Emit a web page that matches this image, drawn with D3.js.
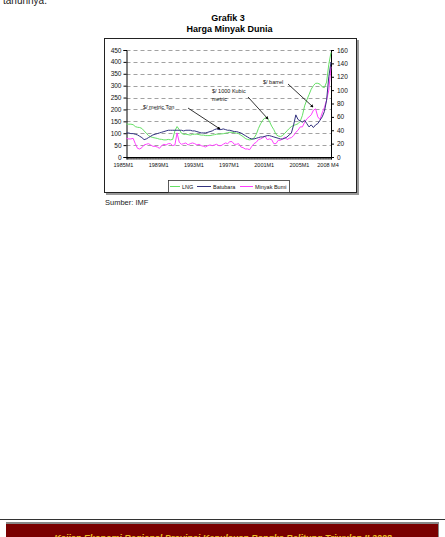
<!DOCTYPE html>
<html>
<head>
<meta charset="utf-8">
<script src="https://cdn.jsdelivr.net/npm/d3@7"></script>
<style>
  html, body { margin: 0; padding: 0; background: #fff; }
  svg { display: block; font-family: "Liberation Sans", Arial, sans-serif; }
</style>
</head>
<body>
<div id="chart"></div>
<script>
// quarterly samples, 1985M1 .. 2008M4 (month index 0, 3, 6, ... 279)
const periodStart = 1985;
const lastMonth = 279;

// LNG, $/1000 kubic metric (left axis)
const lng = [
    138, 138, 138, 136,   // 1985
    128, 125, 124, 120,   // 1986
    110, 100, 90, 85,     // 1987
    82, 80, 78, 75,       // 1988
    74, 72, 72, 74,       // 1989
    72, 74, 110, 128,     // 1990
    115, 100, 95, 96,     // 1991
    94, 92, 95, 96,       // 1992
    96, 94, 92, 92,       // 1993
    90, 90, 90, 92,       // 1994
    94, 96, 96, 97,       // 1995
    98, 100, 102, 104,    // 1996
    104, 102, 100, 98,    // 1997
    92, 86, 78, 74,       // 1998
    72, 74, 80, 95,       // 1999
    120, 140, 155, 165,   // 2000
    165, 150, 130, 115,   // 2001
    95, 88, 86, 90,       // 2002
    100, 110, 120, 128,   // 2003
    133, 136, 140, 150,   // 2004
    175, 215, 240, 262,   // 2005
    285, 300, 310, 310,   // 2006
    306, 295, 292, 315,   // 2007
    390, 440              // 2008
];

// Batubara, $/metric ton (right axis)
const batubara = [
    36, 36, 35, 35,
    34, 33, 31, 29,
    26, 27, 29, 31,
    33, 34, 35, 36,
    37, 38, 39, 40,
    40, 40, 40, 40,
    40, 40, 39, 40,
    40, 40, 39, 39,
    38, 37, 36, 36,
    36, 37, 38, 39,
    41, 42, 41, 41,
    42, 41, 40, 40,
    39, 38, 38, 37,
    36, 34, 32, 30,
    28, 27, 27, 28,
    29, 30, 30, 31,
    32, 32, 31, 30,
    29, 28, 27, 27,
    28, 30, 33, 36,
    48, 63, 56, 54,
    52, 55, 50, 45,
    48, 44, 48, 50,
    55, 60, 68, 85,
    120, 142
];

// Minyak Bumi, $/barrel (right axis)
const minyak = [
    28, 27, 27, 28,
    20, 13, 12, 14,
    18, 19, 20, 18,
    16, 16, 15, 13,
    17, 19, 18, 20,
    20, 17, 18, 36,
    22, 19, 20, 21,
    18, 20, 21, 20,
    18, 19, 17, 16,
    15, 17, 18, 17,
    18, 19, 17, 17,
    19, 21, 20, 23,
    23, 19, 19, 20,
    15, 14, 12, 12,
    11, 16, 20, 22,
    26, 27, 29, 31,
    26, 27, 26, 20,
    20, 25, 25, 27,
    30, 26, 28, 29,
    32, 37, 40, 45,
    45, 52, 57, 60,
    63, 70, 72, 60,
    56, 66, 74, 85,
    100, 135
];

const tickLabels = ["1985M1", "1989M1", "1993M1", "1997M1", "2001M1", "2005M1", "2008 M4"];
const tickMonths = [0, 48, 96, 144, 192, 240, 279];
const leftTicks = [0, 50, 100, 150, 200, 250, 300, 350, 400, 450];
const rightTicks = [0, 20, 40, 60, 80, 100, 120, 140, 160];

const seriesNames = ["LNG", "Batubara", "Minyak Bumi"];
const seriesColors = ["#66e066", "#33337f", "#ff40ff"];

const W = 445, H = 537;
const svg = d3.select("#chart").append("svg")
    .attr("width", W)
    .attr("height", H);

// text cut off at the top of the page
svg.append("text")
    .attr("x", 3).attr("y", 4)
    .attr("font-size", 10)
    .attr("fill", "#222")
    .text("tahunnya.");

// title
svg.append("text")
    .attr("x", 228).attr("y", 20.5)
    .attr("text-anchor", "middle")
    .attr("font-size", 9).attr("font-weight", "bold")
    .text("Grafik 3");
svg.append("text")
    .attr("x", 229.5).attr("y", 32)
    .attr("text-anchor", "middle")
    .attr("font-size", 9).attr("font-weight", "bold")
    .text("Harga Minyak Dunia");

// chart frame with shadow
svg.append("rect")
    .attr("x", 106).attr("y", 40)
    .attr("width", 253).attr("height", 155)
    .attr("fill", "#999");
svg.append("rect")
    .attr("x", 104.5).attr("y", 38.5)
    .attr("width", 252).attr("height", 154)
    .attr("fill", "#fff")
    .attr("stroke", "#222")
    .attr("stroke-width", 1);

const x = d3.scaleLinear().domain([0, lastMonth]).range([126.5, 331]);
const yL = d3.scaleLinear().domain([0, 450]).range([157, 50]);
const yR = d3.scaleLinear().domain([0, 160]).range([157, 50]);

const plot = svg.append("g");

// gridlines
plot.append("g")
    .selectAll("line")
    .data(leftTicks.filter(d => d > 0))
    .join("line")
    .attr("x1", x(0)).attr("x2", x(lastMonth))
    .attr("y1", d => Math.round(yL(d)) + 0.5)
    .attr("y2", d => Math.round(yL(d)) + 0.5)
    .attr("stroke", "#8a8a8a")
    .attr("stroke-width", 0.8)
    .attr("stroke-dasharray", "4,3");

// left axis
const leftAxis = plot.append("g")
    .attr("transform", `translate(${x(0)},0)`)
    .call(d3.axisLeft(yL).tickValues(leftTicks).tickSize(3).tickPadding(2));
// right axis
const rightAxis = plot.append("g")
    .attr("transform", `translate(${x(lastMonth)},0)`)
    .call(d3.axisRight(yR).tickValues(rightTicks).tickSize(3).tickPadding(3));

[leftAxis, rightAxis].forEach(a => {
    a.select(".domain").attr("stroke", "#000");
    a.selectAll(".tick line").attr("stroke", "#000");
    a.selectAll(".tick text")
        .attr("font-family", "Liberation Sans, Arial, sans-serif")
        .attr("font-size", 6.5)
        .attr("fill", "#111");
});

// bottom axis: a tick for every month
const months = d3.range(0, lastMonth + 1);
const bottomAxis = plot.append("g")
    .attr("transform", `translate(0,${yL(0)})`)
    .call(d3.axisBottom(x).tickValues(months).tickSize(2.5).tickFormat(""));
bottomAxis.select(".domain").attr("stroke", "#000");
bottomAxis.selectAll(".tick line").attr("stroke", "#000").attr("stroke-opacity", 0.55);

plot.append("g")
    .selectAll("text")
    .data(tickMonths)
    .join("text")
    .attr("x", (d, i) => x(d) - 3)
    .attr("y", 167)
    .attr("text-anchor", "middle")
    .attr("font-size", 5.5)
    .attr("fill", "#111")
    .text((d, i) => tickLabels[i]);

// lines
const quarterMonths = d3.range(0, lastMonth + 1, 3);
const lineL = d3.line().x((d, i) => x(quarterMonths[i])).y(d => yL(d));
const lineR = d3.line().x((d, i) => x(quarterMonths[i])).y(d => yR(d));

plot.append("path").datum(minyak)
    .attr("d", lineR).attr("fill", "none")
    .attr("stroke", seriesColors[2]).attr("stroke-width", 1);
plot.append("path").datum(lng)
    .attr("d", lineL).attr("fill", "none")
    .attr("stroke", seriesColors[0]).attr("stroke-width", 1);
plot.append("path").datum(batubara)
    .attr("d", lineR).attr("fill", "none")
    .attr("stroke", seriesColors[1]).attr("stroke-width", 1);

// annotations
svg.append("defs").append("marker")
    .attr("id", "head")
    .attr("viewBox", "0 0 10 10")
    .attr("refX", 8).attr("refY", 5)
    .attr("markerWidth", 4).attr("markerHeight", 4)
    .attr("orient", "auto")
    .append("path")
    .attr("d", "M0,0L10,5L0,10z")
    .attr("fill", "#000");

const notes = [
    { lines: ["$/ metric Ton"], tx: 143, ty: 108.5, from: [188, 108], to: [220, 129] },
    { lines: ["$/ 1000 Kubic", "metric"], tx: 212, ty: 92.5, from: [248, 97], to: [268, 119] },
    { lines: ["$/ barrel"], tx: 263, ty: 83.5, from: [288, 84], to: [313, 107] }
];
notes.forEach(n => {
    const t = svg.append("text")
        .attr("x", n.tx).attr("y", n.ty)
        .attr("font-size", 5.5).attr("fill", "#111");
    n.lines.forEach((s, i) => {
        t.append("tspan").attr("x", n.tx).attr("dy", i ? 8.5 : 0).text(s);
    });
    svg.append("line")
        .attr("x1", n.from[0]).attr("y1", n.from[1])
        .attr("x2", n.to[0]).attr("y2", n.to[1])
        .attr("stroke", "#000").attr("stroke-width", 0.8)
        .attr("marker-end", "url(#head)");
});

// legend
const legend = svg.append("g");
legend.append("rect")
    .attr("x", 168.5).attr("y", 180.5)
    .attr("width", 121).attr("height", 12)
    .attr("fill", "#fff").attr("stroke", "#333").attr("stroke-width", 0.8);
const legendItems = [
    { x1: 170, x2: 180, tx: 182 },
    { x1: 197, x2: 211, tx: 213 },
    { x1: 240, x2: 253, tx: 255 }
];
legendItems.forEach((it, i) => {
    legend.append("line")
        .attr("x1", it.x1).attr("x2", it.x2)
        .attr("y1", 186.5).attr("y2", 186.5)
        .attr("stroke", seriesColors[i]).attr("stroke-width", 1);
    legend.append("text")
        .attr("x", it.tx).attr("y", 188.5)
        .attr("font-size", 5.5).attr("fill", "#111")
        .text(seriesNames[i]);
});

// source
svg.append("text")
    .attr("x", 105).attr("y", 205)
    .attr("font-size", 7.5).attr("fill", "#222")
    .text("Sumber: IMF");

// footer
svg.append("line")
    .attr("x1", 0).attr("x2", W)
    .attr("y1", 519.5).attr("y2", 519.5)
    .attr("stroke", "#333").attr("stroke-width", 1);
svg.append("rect")
    .attr("x", 6).attr("y", 522)
    .attr("width", 433).attr("height", 20)
    .attr("fill", "#888");
svg.append("rect")
    .attr("x", 6).attr("y", 524)
    .attr("width", 432).attr("height", 20)
    .attr("fill", "#7a0000");
svg.append("text")
    .attr("x", 223).attr("y", 541)
    .attr("text-anchor", "middle")
    .attr("font-size", 9).attr("font-weight", "bold").attr("font-style", "italic")
    .attr("fill", "#e8c020")
    .text("Kajian Ekonomi Regional Provinsi Kepulauan Bangka Belitung Triwulan II 2008");
</script>
</body>
</html>
